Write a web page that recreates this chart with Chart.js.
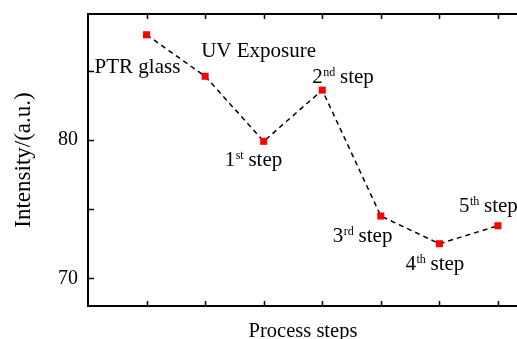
<!DOCTYPE html>
<html>
<head>
<meta charset="utf-8">
<script src="https://cdn.jsdelivr.net/npm/chart.js@4.4.0/dist/chart.umd.min.js"></script>
<style>
  html, body { margin: 0; padding: 0; background: #fff; }
  #wrap { width: 517px; height: 339px; }
</style>
</head>
<body>
<div id="wrap"><canvas id="chart" width="517" height="339"></canvas></div>
<script>
// Data
const steps = [1, 2, 3, 4, 5, 6, 7];
const intensity = [87.6, 84.6, 79.9, 83.6, 74.5, 72.5, 73.8];
// label text: [base, superscript, rest]
const stepLabels = [
    ['PTR glass', '', ''],
    ['UV Exposure', '', ''],
    ['1', 'st', ' step'],
    ['2', 'nd', ' step'],
    ['3', 'rd', ' step'],
    ['4', 'th', ' step'],
    ['5', 'th', ' step']
];
const yTicks = [70, 75, 80, 85];
const yLabelled = [70, 80];

// where each label sits relative to its point (left, baseline)
const labelOffsets = [[-52, 38], [-4, -19], [-39, 25], [-10, -7], [-48, 26], [-34, 26], [-39, -14]];

const FONT = '"Liberation Serif", "Times New Roman", serif';

function noPad(scale) {
    scale.paddingTop = 0;
    scale.paddingBottom = 0;
    scale.paddingLeft = 0;
    scale.paddingRight = 0;
}

// Frame, inward ticks, annotations and axis titles
const decorPlugin = {
    id: 'decor',
    afterDraw(chart) {
        const ctx = chart.ctx;
        const area = chart.chartArea;
        const xs = chart.scales.x, ys = chart.scales.y;
        ctx.save();
        ctx.strokeStyle = '#000';
        ctx.lineWidth = 2;
        ctx.beginPath();
        ctx.moveTo(chart.width, area.top);
        ctx.lineTo(area.left, area.top);
        ctx.lineTo(area.left, area.bottom);
        ctx.lineTo(chart.width, area.bottom);
        ctx.stroke();

        ctx.lineWidth = 1.5;
        ctx.beginPath();
        steps.forEach(s => {
            const px = Math.round(xs.getPixelForValue(s)) + 0.5;
            ctx.moveTo(px, area.bottom);
            ctx.lineTo(px, area.bottom - 5);
            ctx.moveTo(px, area.top);
            ctx.lineTo(px, area.top + 5);
        });
        yTicks.forEach(v => {
            const py = Math.round(ys.getPixelForValue(v)) + 0.5;
            ctx.moveTo(area.left, py);
            ctx.lineTo(area.left + 6, py);
        });
        ctx.stroke();

        // point labels
        ctx.fillStyle = '#000';
        ctx.textBaseline = 'alphabetic';
        ctx.textAlign = 'left';
        stepLabels.forEach((lab, i) => {
            let x = xs.getPixelForValue(steps[i]) + labelOffsets[i][0];
            const y = ys.getPixelForValue(intensity[i]) + labelOffsets[i][1];
            ctx.font = '21px ' + FONT;
            ctx.fillText(lab[0], x, y);
            x += ctx.measureText(lab[0]).width;
            if (lab[1]) {
                ctx.font = '12px ' + FONT;
                ctx.fillText(lab[1], x + 0.5, y - 7);
                x += ctx.measureText(lab[1]).width;
                ctx.font = '21px ' + FONT;
                ctx.fillText(lab[2], x, y);
            }
        });

        // axis titles
        ctx.textAlign = 'center';
        ctx.font = '20.5px ' + FONT;
        ctx.fillText('Process steps', 303, 337);
        ctx.font = '23px ' + FONT;
        ctx.translate(30, 160);
        ctx.rotate(-Math.PI / 2);
        ctx.fillText('Intensity/(a.u.)', 0, 0);
        ctx.restore();
    }
};

new Chart(document.getElementById('chart').getContext('2d'), {
    type: 'line',
    data: {
        datasets: [{
            data: steps.map((s, i) => ({ x: s, y: intensity[i] })),
            borderColor: '#000',
            borderWidth: 1.5,
            borderDash: [5, 4],
            pointStyle: 'rect',
            pointRadius: 5,
            pointBorderWidth: 0,
            pointBackgroundColor: '#ff0000',
            pointBorderColor: '#ff0000',
            tension: 0
        }]
    },
    options: {
        responsive: false,
        animation: false,
        events: [],
        layout: { padding: { top: 14, right: 0, left: 0, bottom: 0 } },
        plugins: {
            legend: { display: false },
            tooltip: { enabled: false }
        },
        scales: {
            x: {
                type: 'linear',
                min: 0,
                max: 7.24,
                grid: { display: false, drawTicks: false },
                border: { display: false },
                ticks: { display: false },
                afterFit(scale) { scale.height = 33; noPad(scale); }
            },
            y: {
                min: 68,
                max: 89.1,
                grid: { display: false, drawTicks: false },
                border: { display: false },
                afterBuildTicks(scale) { scale.ticks = yTicks.map(v => ({ value: v })); },
                ticks: {
                    padding: 10,
                    color: '#000',
                    font: { family: FONT, size: 20 },
                    callback: v => yLabelled.includes(v) ? String(v) : ''
                },
                afterFit(scale) { scale.width = 88; noPad(scale); }
            }
        }
    },
    plugins: [decorPlugin]
});
</script>
</body>
</html>
